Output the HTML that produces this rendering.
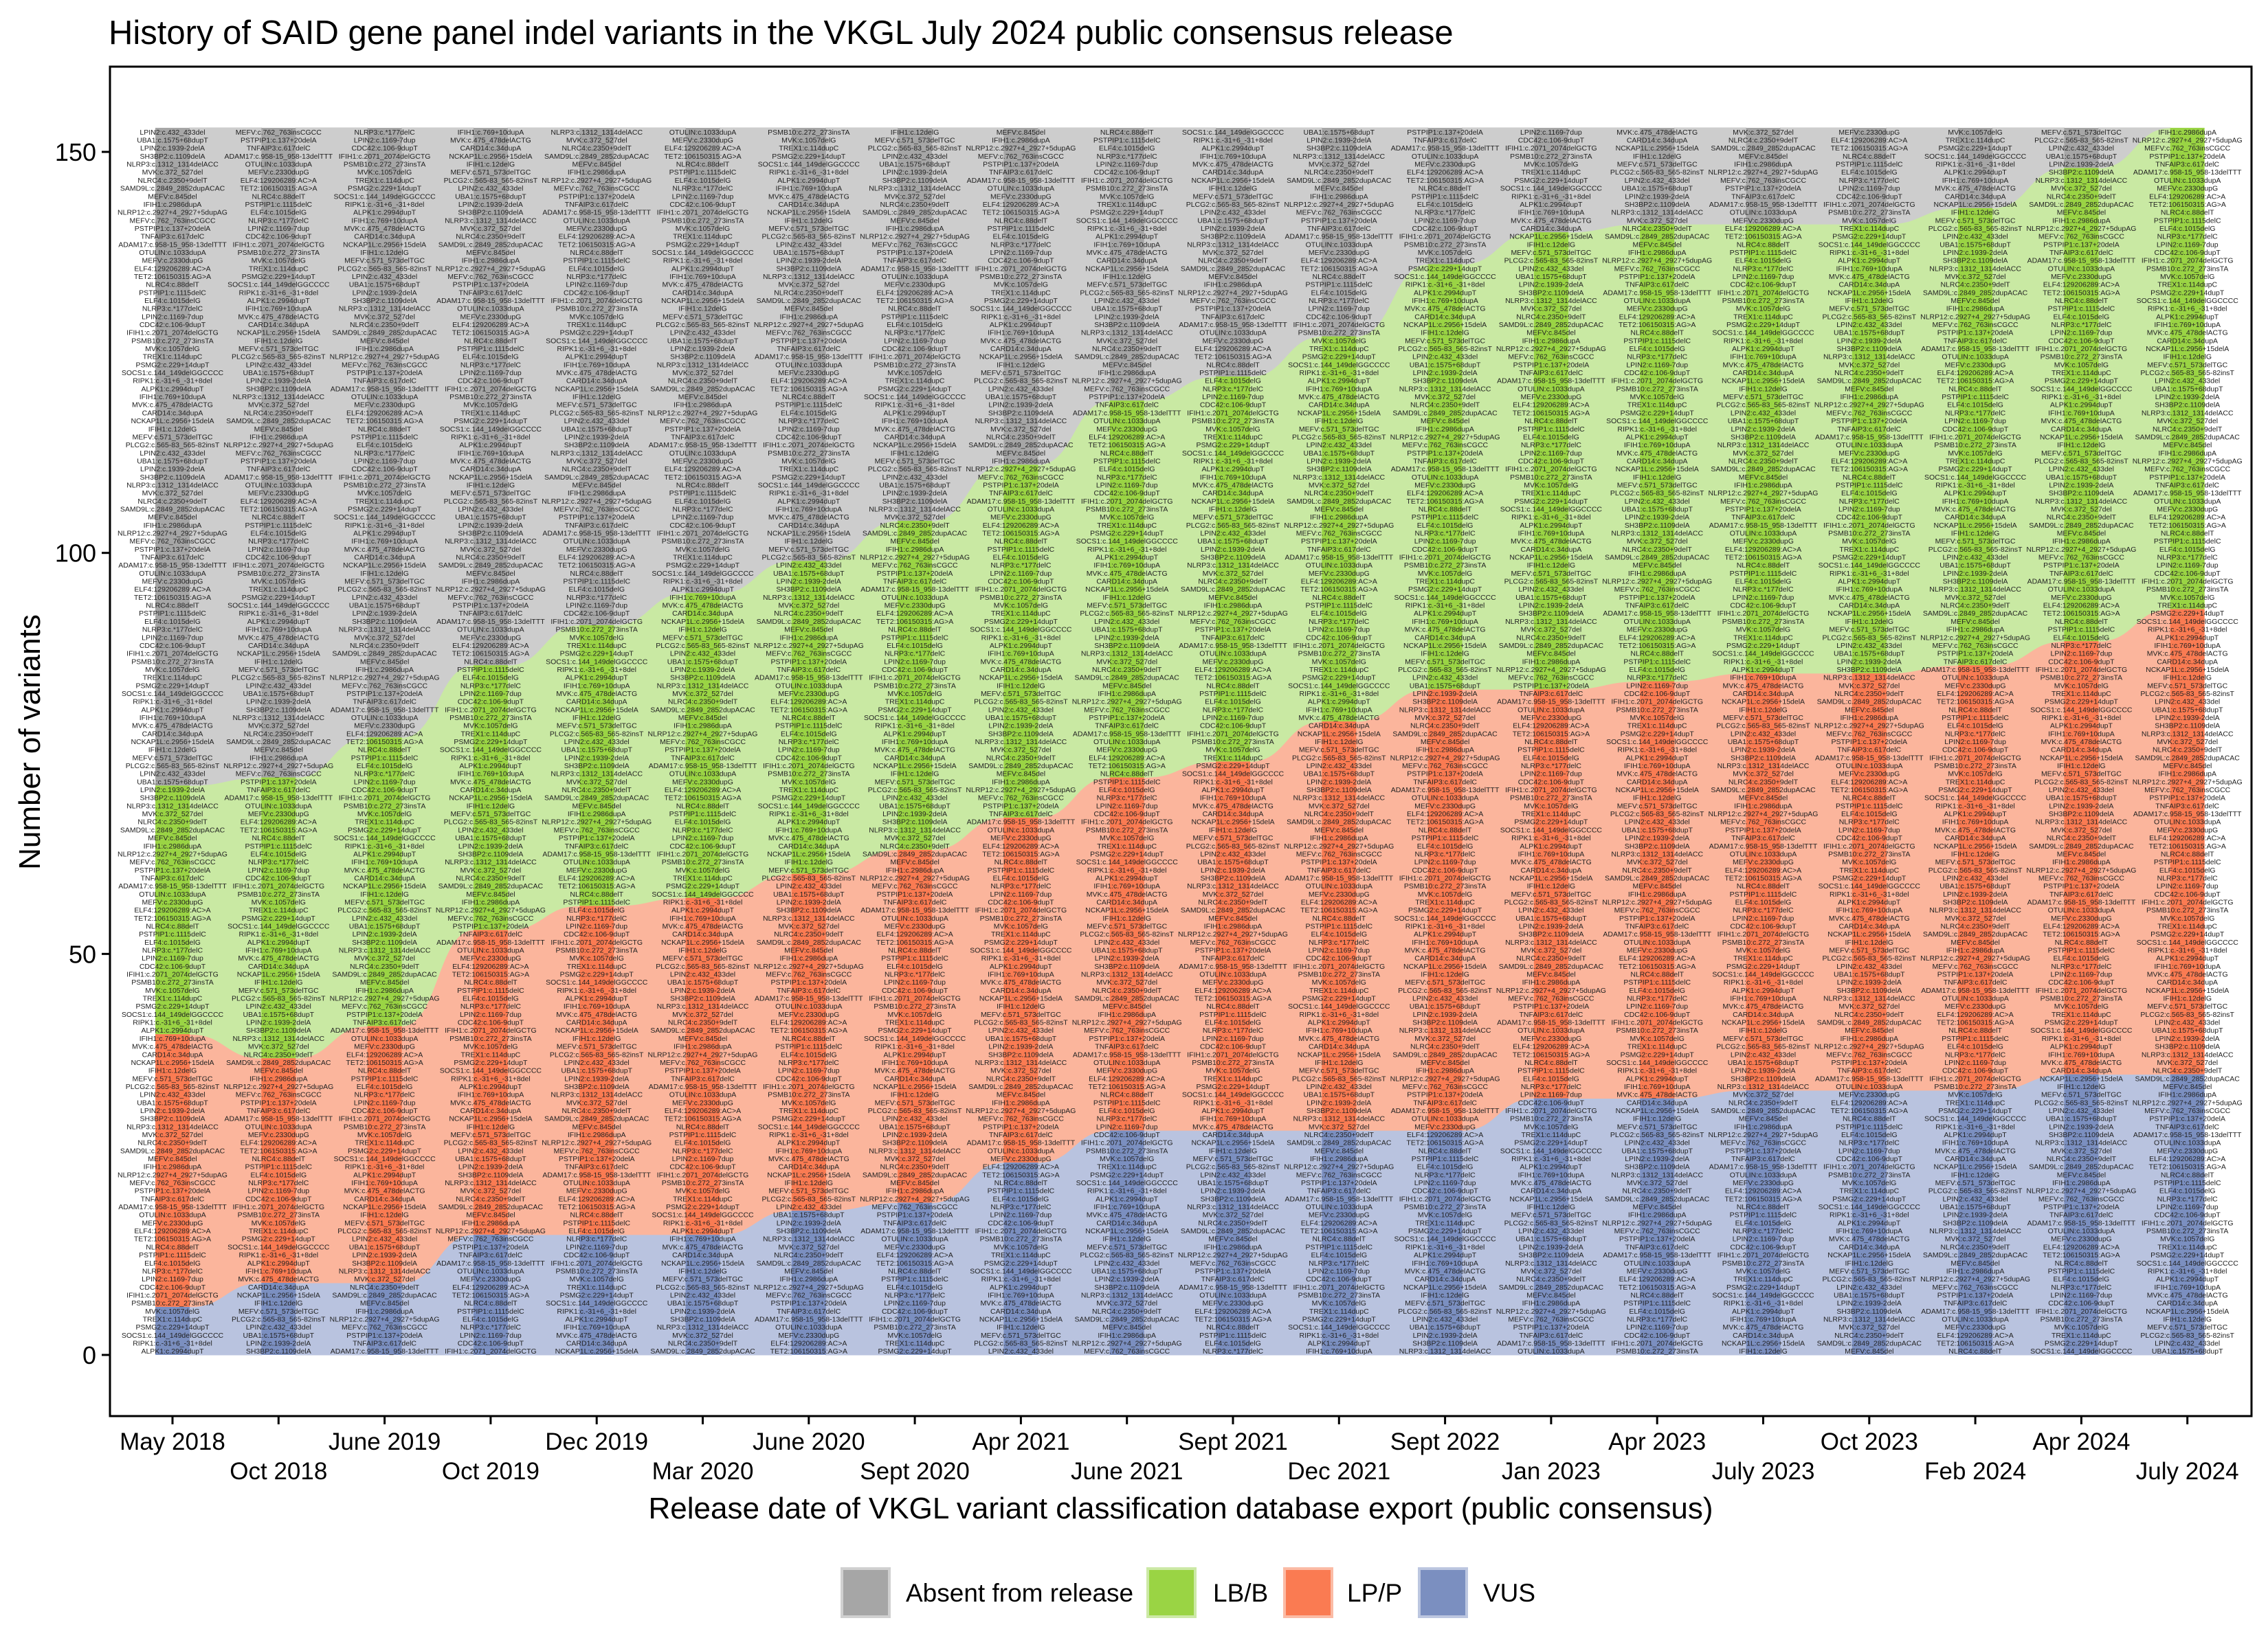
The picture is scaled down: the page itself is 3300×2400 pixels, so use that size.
<!DOCTYPE html>
<html><head><meta charset="utf-8"><style>
html,body{margin:0;padding:0;background:#fff}
svg{display:block;font-family:"Liberation Sans",Arial,sans-serif}
</style></head><body>
<svg id="chart" width="3300" height="2400" viewBox="0 0 3300 2400" xmlns="http://www.w3.org/2000/svg">
<rect x="0" y="0" width="3300" height="2400" fill="#fff"/>
<text x="158" y="64" font-size="49" fill="#000">History of SAID gene panel indel variants in the VKGL July 2024 public consensus release</text>
<g id="flows"></g>
<g id="strata"></g>
<g id="labels" font-size="10.5" fill="#222" text-anchor="middle"></g>
<rect x="160" y="97" width="3116" height="1964" fill="none" stroke="#000" stroke-width="3"/>
<g id="yaxis"></g>
<g id="xaxis"></g>
<text transform="translate(58,1080) rotate(-90)" text-anchor="middle" font-size="44">Number of variants</text>
<text x="1718" y="2210" text-anchor="middle" font-size="44">Release date of VKGL variant classification database export (public consensus)</text>
<g>
<rect x="1225" y="2283" width="69" height="70" fill="#a6a6a6" stroke="#d0d0d0" stroke-width="4"/>
<text x="1318" y="2331" font-size="37">Absent from release</text>
<rect x="1670" y="2283" width="69" height="70" fill="#9ad444" stroke="#cce9a6" stroke-width="4"/>
<text x="1765" y="2331" font-size="37">LB/B</text>
<rect x="1869" y="2283" width="69" height="70" fill="#fa7b52" stroke="#fbbba5" stroke-width="4"/>
<text x="1960" y="2331" font-size="37">LP/P</text>
<rect x="2065" y="2283" width="69" height="70" fill="#7b8fc0" stroke="#bcc6e0" stroke-width="4"/>
<text x="2158" y="2331" font-size="37">VUS</text>
</g>
</svg>
<script>
const releases = ["May 2018","Oct 2018","June 2019","Oct 2019","Dec 2019","Mar 2020","June 2020","Sept 2020","Apr 2021","June 2021","Sept 2021","Dec 2021","Sept 2022","Jan 2023","Apr 2023","July 2023","Oct 2023","Feb 2024","Apr 2024","July 2024"];
const vusCounts    = [6,9,9,15,15,15,18,19,24,28,28,28,28,32,32,33,33,33,35,35];
const lppCounts    = [34,28,32,38,41,42,42,44,43,44,46,51,55,51,52,52,52,53,54,58];
const lbbCounts    = [31,35,36,33,35,38,39,41,44,47,48,48,53,57,57,56,56,57,59,60];
const absentCounts = [82,81,76,67,62,58,54,49,42,34,31,26,17,13,12,12,12,10,5,0];
const yTicks = [0,50,100,150];
const variantNames = ["ALPK1:c.2994dupT","IFIH1:c.2986dupA","PSMB10:c.272_273insTA","SH3BP2:c.1109delA","PSTPIP1:c.1115delC","IFIH1:c.12delG","ADAM17:c.958-15_958-13delTTT","RIPK1:c.-31+6_-31+8del","MEFV:c.845del","IFIH1:c.2071_2074delGCTG","LPIN2:c.1939-2delA","NLRC4:c.88delT","NCKAP1L:c.2956+15delA","TNFAIP3:c.617delC","SOCS1:c.144_149delGGCCCC","SAMD9L:c.2849_2852dupACAC","CDC42:c.106-9dupT","UBA1:c.1575+68dupT","TET2:106150315:AG>A","CARD14:c.34dupA","PSTPIP1:c.137+20delA","PSMG2:c.229+14dupT","NLRC4:c.2350+9delT","LPIN2:c.1169-7dup","LPIN2:c.432_433del","ELF4:129206289:AC>A","MVK:c.475_478delACTG","MEFV:c.762_763insCGCC","TREX1:c.114dupC","MVK:c.372_527del","NLRP3:c.*177delC","PLCG2:c.565-83_565-82insT","MEFV:c.2330dupG","IFIH1:c.769+10dupA","NLRP12:c.2927+4_2927+5dupAG","MVK:c.1057delG","NLRP3:c.1312_1314delACC","ELF4:c.1015delG","MEFV:c.571_573delTGC","OTULIN:c.1033dupA"];

const SVGNS = "http://www.w3.org/2000/svg";
const X0 = 251, DX = 154.3, HALF = 25;
const Y0 = 1972, PERV = 11.673;
function xScale(i){ return X0 + DX*i; }
function yScale(v){ return Y0 - v*PERV; }

const cats = [
  {key:"vus", counts:vusCounts, strat:"#7b8fc0", flow:"#b9c3df"},
  {key:"lpp", counts:lppCounts, strat:"#fa7b52", flow:"#fbb59c"},
  {key:"lbb", counts:lbbCounts, strat:"#9ad444", flow:"#c9e9a3"},
  {key:"absent", counts:absentCounts, strat:"#a6a6a6", flow:"#cdcdcd"}
];
const bounds = cats.map(()=>[]);
for (let i=0;i<releases.length;i++){
  let acc=0;
  cats.forEach((c,k)=>{ bounds[k].push([acc, acc+c.counts[i]]); acc+=c.counts[i]; });
}
const flowsG = document.getElementById('flows');
const strataG = document.getElementById('strata');
const labelsG = document.getElementById('labels');

cats.forEach((c,k)=>{
  for (let i=0;i<releases.length-1;i++){
    const a = bounds[k][i], b = bounds[k][i+1];
    if (a[1]-a[0]<=0 && b[1]-b[0]<=0) continue;
    const x1 = xScale(i)+HALF, x2 = xScale(i+1)-HALF, xm=(x1+x2)/2;
    const d = `M${x1},${yScale(a[1])} C${xm},${yScale(a[1])} ${xm},${yScale(b[1])} ${x2},${yScale(b[1])} L${x2},${yScale(b[0])} C${xm},${yScale(b[0])} ${xm},${yScale(a[0])} ${x1},${yScale(a[0])} Z`;
    const p = document.createElementNS(SVGNS,'path');
    p.setAttribute('d', d);
    p.setAttribute('fill', c.flow);
    p.setAttribute('stroke', c.flow);
    p.setAttribute('stroke-width', '1');
    
    
    flowsG.appendChild(p);
  }
  for (let i=0;i<releases.length;i++){
    const a = bounds[k][i];
    if (a[1]-a[0]<=0) continue;
    const r = document.createElementNS(SVGNS,'rect');
    r.setAttribute('x', xScale(i)-HALF);
    r.setAttribute('y', yScale(a[1]));
    r.setAttribute('width', HALF*2);
    r.setAttribute('height', yScale(a[0])-yScale(a[1]));
    r.setAttribute('fill', c.strat);
    
    
    strataG.appendChild(r);
  }
});
const total = vusCounts[0]+lppCounts[0]+lbbCounts[0]+absentCounts[0];
for (let i=0;i<releases.length;i++){
  for (let v=0; v<total; v++){
    const t = document.createElementNS(SVGNS,'text');
    t.setAttribute('x', xScale(i));
    t.setAttribute('y', yScale(v+0.5)+4);
    t.textContent = variantNames[(v*7+i*3) % variantNames.length];
    
    
    labelsG.appendChild(t);
  }
}
const yG = document.getElementById('yaxis');
yTicks.forEach(v=>{
  const l = document.createElementNS(SVGNS,'line');
  l.setAttribute('x1',148); l.setAttribute('x2',160);
  l.setAttribute('y1',yScale(v)); l.setAttribute('y2',yScale(v));
  l.setAttribute('stroke','#000'); l.setAttribute('stroke-width','3');
  
  
  yG.appendChild(l);
  const t = document.createElementNS(SVGNS,'text');
  t.setAttribute('x',140); t.setAttribute('y',yScale(v)+13);
  t.setAttribute('text-anchor','end'); t.setAttribute('font-size','36');
  t.textContent = v;
  
  
  yG.appendChild(t);
});
const xG = document.getElementById('xaxis');
releases.forEach((r,i)=>{
  const l = document.createElementNS(SVGNS,'line');
  l.setAttribute('x1',xScale(i)); l.setAttribute('x2',xScale(i));
  l.setAttribute('y1',2061); l.setAttribute('y2',2073);
  l.setAttribute('stroke','#000'); l.setAttribute('stroke-width','3');
  
  
  xG.appendChild(l);
  const t = document.createElementNS(SVGNS,'text');
  t.setAttribute('x',xScale(i)); t.setAttribute('y', i%2===0 ? 2110 : 2153);
  t.setAttribute('text-anchor','middle'); t.setAttribute('font-size','35');
  t.textContent = r;
  
  
  xG.appendChild(t);
});
</script>
</body></html>
